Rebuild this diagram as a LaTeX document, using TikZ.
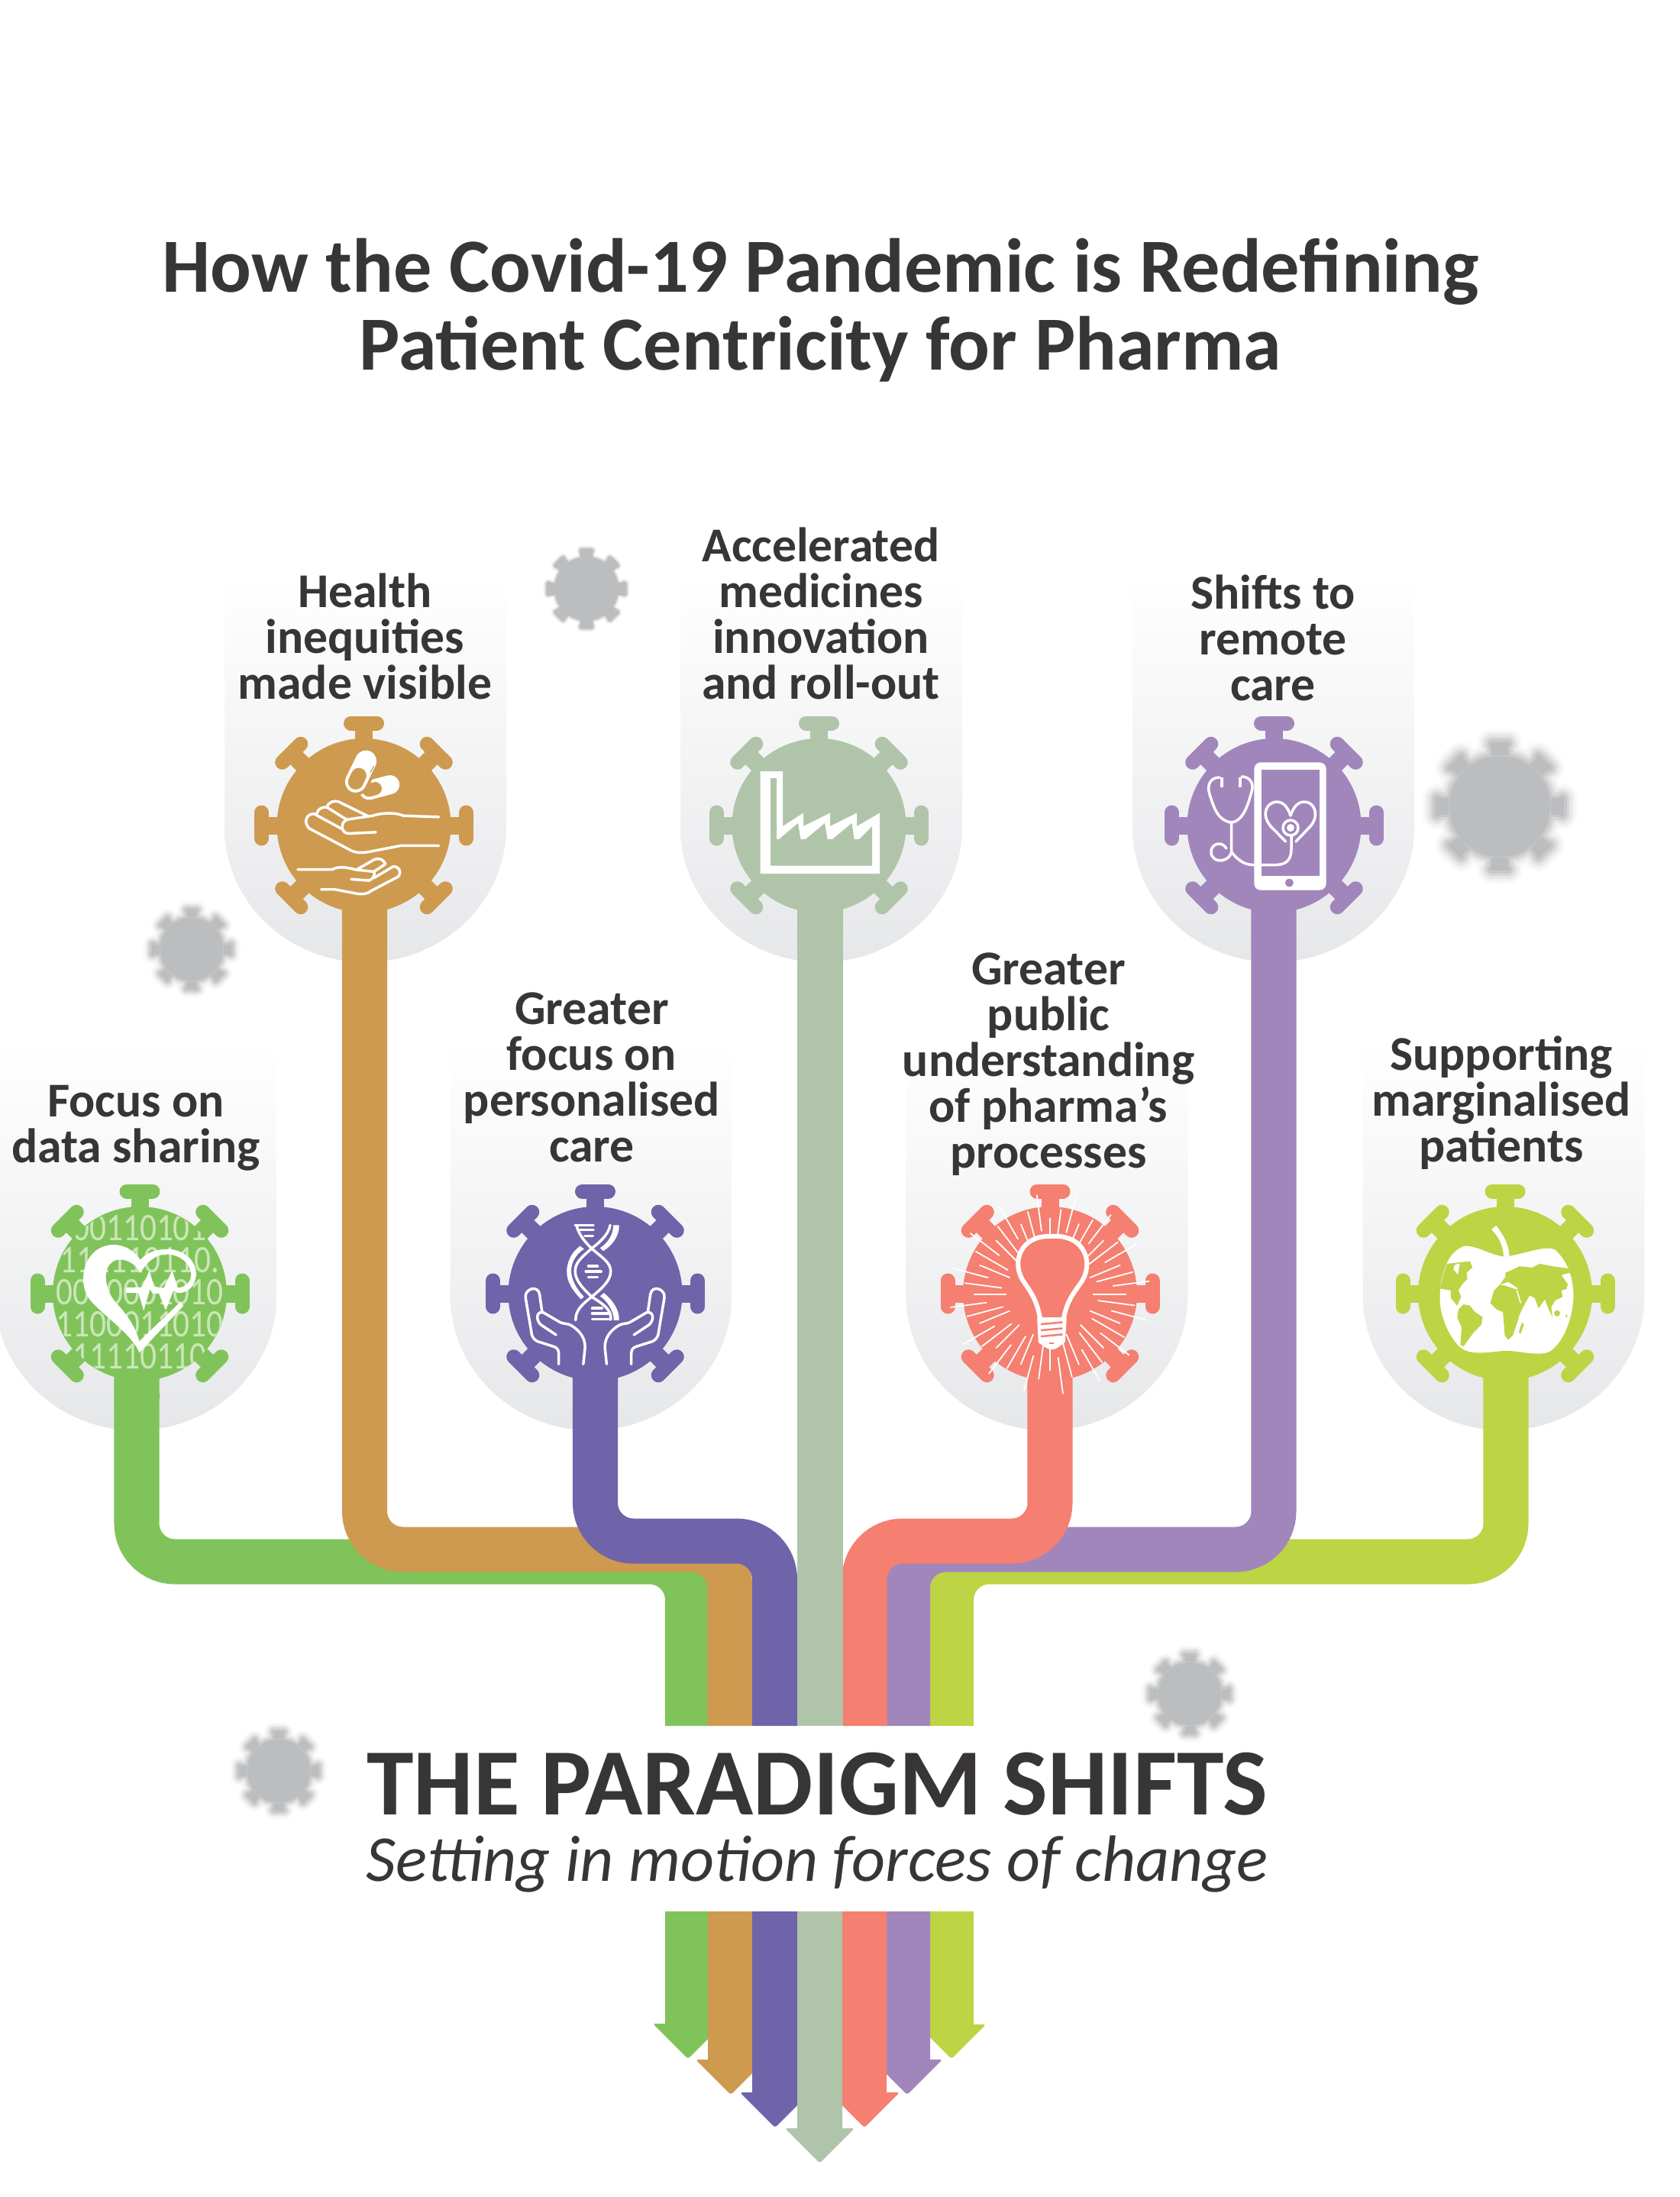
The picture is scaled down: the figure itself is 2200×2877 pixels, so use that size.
\documentclass[tikz,border=0pt]{standalone}
\usepackage{fontspec}
\setmainfont{Carlito}
\usetikzlibrary{positioning}

\definecolor{inkgrey}{HTML}{373536}
\definecolor{leaf}{HTML}{80C35B}
\definecolor{tan}{HTML}{CD9A4F}
\definecolor{indigo}{HTML}{6F63A9}
\definecolor{sage}{HTML}{B0C4A9}
\definecolor{coral}{HTML}{F57F70}
\definecolor{violet}{HTML}{A186BC}
\definecolor{lime}{HTML}{BDD445}
\definecolor{shieldgrey}{HTML}{E6E7E9}
\definecolor{fuzzgrey}{HTML}{BCBDBF}
\definecolor{digitgreen}{HTML}{CBE6B8}

\tikzset{
    band/.style={line width=0.59cm, rounded corners=0.5cm},
    lab/.style={align=center, anchor=base, text=inkgrey, inner sep=0pt, font=\fontsize{18.1}{17}\selectfont\bfseries},
    iconbox/.style={x=0.003333cm, y=-0.003333cm},
    inkline/.style={draw=white, line width=0.035cm, line cap=round, line join=round},
    digits/.style={text=digitgreen, inner sep=0pt, align=center, xscale=0.85, font=\fontsize{14.5}{12}\selectfont}
}

% one germ, #1 colour, #2 size, #3 added width, #4 neck width
\newcommand{\germshape}[4]{
    \fill[#1] (0,0) circle ({114*#2+#3});
    \foreach \a in {0,45,...,315} {
        \draw[#1, rotate=\a, line width={(#4*#2+2*#3)*0.01cm}] ({110*#2},0) -- ({134*#2},0);
        \draw[#1, rotate=\a, line cap=round, line width={(19*#2+2*#3)*0.01cm}] ({134*#2},{-17*#2}) -- ({134*#2},{17*#2});
    }
}
\newcommand{\germ}[4]{
    \coordinate (#1) at (#2,#3);
    \begin{scope}[shift={(#1)}]
        \germshape{#4}{1}{0}{23}
    \end{scope}
}
% grey germ out of focus: #1 name, #2 #3 place, #4 size, #5 blur
\newcommand{\fuzzgerm}[5]{
    \coordinate (#1) at (#2,#3);
    \begin{scope}[shift={(#1)}]
        \foreach \m/\t in {2/8, 1.5/20, 1/38, 0.5/60, 0/82, -0.5/100} {
            \germshape{fuzzgrey!\t!white}{#4}{\m*#5}{46}
        }
    \end{scope}
}
\newcommand{\shield}[2]{
    \shade[top color=white, bottom color=shieldgrey]
        ({#1-184.5},#2) -- ({#1+184.5},#2) -- ({#1+184.5},{#2+330})
        .. controls ({#1+184.5},{#2+428}) and ({#1+102},{#2+507}) .. (#1,{#2+507})
        .. controls ({#1-102},{#2+507}) and ({#1-184.5},{#2+428}) .. ({#1-184.5},{#2+330}) -- cycle;
}
% lower part of a band: #1 colour, #2 centre, #3 half width, #4 shaft end, #5 half head
\newcommand{\bandarrow}[5]{
    \fill[#1] ({#2-#3},2503) -- ({#2-#3},#4) [rounded corners=0.03cm] -- ({#2-#5},#4)
        -- (#2,{#4+#5}) -- ({#2+#5},#4) [sharp corners] -- ({#2+#3},#4) -- ({#2+#3},2503) -- cycle;
}

\begin{document}
\begin{tikzpicture}[x=0.01cm, y=-0.01cm]
    \useasboundingbox (0,0) rectangle (2200,2877);

    % blurred germs
    \fuzzgerm{fuzza}{768}{771}{0.37}{1.8}
    \fuzzgerm{fuzzb}{251}{1243}{0.38}{4.5}
    \fuzzgerm{fuzzc}{1964}{1056}{0.61}{7}
    \fuzzgerm{fuzzd}{1558}{2218}{0.38}{4.5}
    \fuzzgerm{fuzze}{365}{2319}{0.38}{4.5}

    % backings
    \shield{178}{1366}
    \shield{478.5}{753}
    \shield{774}{1366}
    \shield{1075.5}{753}
    \shield{1371}{1366}
    \shield{1667.5}{753}
    \shield{1969}{1366}

    % upper bands
    \coordinate (stemfocus) at (179,1694);
    \coordinate (stemhealth) at (477.5,1081);
    \coordinate (stemgreater) at (779.5,1694);
    \coordinate (stemaccel) at (1074,1081);
    \coordinate (stemunder) at (1375,1694);
    \coordinate (stemremote) at (1668,1081);
    \coordinate (stemmargin) at (1972,1694);
    \coordinate (kneefocus) at (900.5,2045);
    \coordinate (kneehealth) at (956,2029);
    \coordinate (kneegreater) at (1014.5,2018);
    \coordinate (kneeunder) at (1132,2018);
    \coordinate (kneeremote) at (1188.5,2029);
    \coordinate (kneemargin) at (1245.5,2045);
    \coordinate (endfocus) at (900.5,2260);
    \coordinate (endhealth) at (956,2260);
    \coordinate (endgreater) at (1014.5,2260);
    \coordinate (endaccel) at (1074,2260);
    \coordinate (endunder) at (1132,2260);
    \coordinate (endremote) at (1188.5,2260);
    \coordinate (endmargin) at (1245.5,2260);
    \draw[band, leaf] (stemfocus) |- (kneefocus) -- (endfocus);
    \draw[band, tan] (stemhealth) |- (kneehealth) -- (endhealth);
    \draw[band, indigo] (stemgreater) |- (kneegreater) -- (endgreater);
    \draw[band, lime] (stemmargin) |- (kneemargin) -- (endmargin);
    \draw[band, violet] (stemremote) |- (kneeremote) -- (endremote);
    \draw[band, coral] (stemunder) |- (kneeunder) -- (endunder);
    \draw[band, sage] (stemaccel) -- (endaccel);

    % lower bands
    \bandarrow{leaf}{901}{30}{2650}{46}
    \bandarrow{tan}{957}{30}{2697}{46}
    \bandarrow{indigo}{1015}{30}{2740}{46}
    \bandarrow{lime}{1246}{29}{2651}{45}
    \bandarrow{violet}{1188}{30}{2697}{46}
    \bandarrow{coral}{1132}{29}{2740}{46}
    \bandarrow{sage}{1073.5}{29.5}{2787}{45.5}

    % germs
    \germ{focus}{183}{1694}{leaf}
    \germ{health}{476.5}{1081}{tan}
    \germ{greater}{779.5}{1694}{indigo}
    \germ{accel}{1072.5}{1081}{sage}
    \germ{under}{1375}{1694}{coral}
    \germ{remote}{1668.5}{1081}{violet}
    \germ{margin}{1971}{1694}{lime}

    % heart over digits
    \begin{scope}
        \clip (focus) circle (113);
        \node[digits] (rows) at (183,1692) {00110101\\111110110.\\0010001010\\1100011010\\11110110};
    \end{scope}
    \begin{scope}[shift={(60,1570)}, iconbox]
        \fill[white] (368,605) .. controls (340,530) and (200,440) .. (165,385)
            .. controls (125,320) and (150,185) .. (265,180)
            .. controls (310,180) and (350,205) .. (372,240)
            .. controls (400,205) and (450,195) .. (490,198)
            .. controls (560,205) and (600,260) .. (590,310)
            .. controls (580,355) and (550,372) .. (515,370) -- (515,350)
            .. controls (550,350) and (572,325) .. (572,295)
            .. controls (565,240) and (510,215) .. (470,218)
            .. controls (430,220) and (395,250) .. (372,292)
            .. controls (350,245) and (290,225) .. (262,248)
            .. controls (225,275) and (230,340) .. (265,395)
            .. controls (300,435) and (345,480) .. (368,560)
            -- (530,405) -- (542,420) -- cycle;
        \fill[white] (315,348) -- (378,348) -- (408,282) -- (425,345) -- (465,350) -- (497,282)
            -- (518,345) -- (522,368) -- (502,360) -- (472,438) -- (445,372) -- (420,372)
            -- (410,355) -- (385,440) -- (365,370) -- (315,370) -- cycle;
    \end{scope}

    % hands and pills
    \begin{scope}[shift={(355,960)}, iconbox]
        \draw[white, line width=0.25cm, line cap=round] (468,203) -- (385,225);
        \draw[tan, line width=0.17cm, line cap=round] (410,218) -- (385,225);
        \draw[tan, line width=0.36cm, line cap=round] (373,110) -- (333,192);
        \draw[white, line width=0.28cm, line cap=round] (373,110) -- (333,192);
        \draw[tan, line width=0.2cm, line cap=round] (345,167) -- (333,192);
        \draw[tan, line width=0.012cm] (405,130) -- (390,155);
        \draw[inkline] (660,330) -- (520,325) .. controls (490,312) and (440,312) .. (400,325)
            -- (300,340) .. controls (270,350) and (275,395) .. (305,395) -- (412,390);
        \draw[inkline] (660,443) -- (510,443) -- (380,468) .. controls (350,472) and (330,470) .. (315,462)
            -- (150,375) .. controls (125,350) and (140,315) .. (170,318) -- (280,378);
        \draw[inkline] (180,315) .. controls (185,295) and (205,290) .. (220,292) -- (300,342);
        \draw[inkline] (220,292) .. controls (225,270) and (250,262) .. (270,272) -- (378,325);
        \draw[inkline] (105,537) -- (240,537) .. controls (260,525) and (290,525) .. (335,538) -- (405,498)
            .. controls (425,490) and (440,495) .. (450,515) -- (405,545);
        \draw[inkline] (197,615) -- (250,615) -- (340,632) .. controls (365,635) and (380,632) .. (395,620)
            -- (500,565) .. controls (515,545) and (505,525) .. (480,525) -- (405,570);
        \draw[inkline] (315,575) -- (385,580) .. controls (405,575) and (410,550) .. (405,545) -- (335,538);
    \end{scope}

    % factory
    \fill[white] (995.5,1010) -- (1025,1010) -- (1025,1082) -- (1052,1064.6) -- (1052,1082) -- (1087,1064.6) -- (1087,1082)
        -- (1122,1064.6) -- (1122,1082) -- (1152,1064.6) -- (1152,1144) -- (995.5,1144) -- cycle;
    \fill[sage] (1009,1019) -- (1017,1019) -- (1017,1099) -- (1020,1099) -- (1045,1078) -- (1048.5,1099) -- (1055,1099) -- (1080,1078)
        -- (1083.6,1099) -- (1090,1099) -- (1115.5,1078) -- (1118.6,1099) -- (1125,1099) -- (1142,1082) -- (1142,1133.5) -- (1009,1133.5) -- cycle;

    % dna and hands
    \begin{scope}[shift={(660,1575)}, iconbox]
        \draw[inkline] (285,88) .. controls (295,130) and (325,160) .. (345,180)
            .. controls (305,215) and (280,235) .. (280,270) .. controls (280,310) and (320,345) .. (345,370)
            .. controls (315,395) and (280,420) .. (282,462);
        \draw[inkline] (418,88) .. controls (410,130) and (370,160) .. (345,180)
            .. controls (385,215) and (420,235) .. (420,270) .. controls (420,310) and (375,345) .. (345,370)
            .. controls (385,395) and (425,420) .. (420,460);
        \fill[white] (430,88) -- (453,88) .. controls (455,130) and (425,170) .. (390,190) -- (378,178) .. controls (405,160) and (430,130) .. (430,88) -- cycle;
        \fill[white] (300,170) -- (315,182) .. controls (280,205) and (262,240) .. (265,275) .. controls (268,310) and (290,345) .. (315,370) -- (303,380)
            .. controls (270,345) and (245,310) .. (247,265) .. controls (250,225) and (270,190) .. (300,170) -- cycle;
        \fill[white] (393,355) .. controls (425,380) and (455,420) .. (453,462) -- (432,462) .. controls (432,425) and (405,385) .. (378,368) -- cycle;
        \draw[inkline] (280,88) -- (352,88);
        \draw[inkline] (298,107) -- (352,107);
        \draw[inkline] (318,130) -- (350,130);
        \draw[inkline] (322,270) -- (382,270);
        \draw[inkline] (332,250) -- (368,250);
        \draw[inkline] (332,293) -- (368,293);
        \draw[inkline] (347,415) -- (385,415);
        \draw[inkline] (347,435) -- (410,435);
        \draw[inkline] (347,458) -- (420,458);
        \foreach \s in {1,-1} {
            \begin{scope}[shift={(358,0)}, xscale=\s]
                \draw[inkline] (-143,635) -- (-143,590) .. controls (-145,575) and (-150,570) .. (-165,565)
                    -- (-228,545) .. controls (-245,535) and (-250,520) .. (-250,510) -- (-273,375)
                    .. controls (-280,340) and (-225,320) .. (-218,360) -- (-208,430);
                \draw[inkline] (-153,520) -- (-213,480) .. controls (-235,460) and (-230,425) .. (-203,432)
                    -- (-138,470) .. controls (-125,478) and (-110,472) .. (-90,485)
                    .. controls (-50,510) and (-35,545) .. (-40,580) -- (-46,635);
            \end{scope}
        }
    \end{scope}

    % rays and bulb
    \begin{scope}[shift={(1255,1575)}, iconbox]
        \foreach \a [count=\i] in {0,7.5,...,352.5} {
            \pgfmathtruncatemacro{\k}{mod(\i,3)}
            \pgfmathsetmacro{\rin}{\k==0 ? 250 : (\k==1 ? 170 : 190)}
            \pgfmathsetmacro{\rout}{\k==0 ? 395 : (\k==1 ? 300 : 350)}
            \ifnum\k=2
                \draw[white, line width=0.018cm, dash pattern=on 14pt off 1.5pt on 5pt off 1.5pt] (360,360) ++(\a:\rin) -- ++(\a:{\rout-\rin});
            \else
                \draw[white, line width=0.018cm] (360,360) ++(\a:\rin) -- ++(\a:{\rout-\rin});
            \fi
        }
        \filldraw[draw=white, fill=coral, line width=0.06cm] (322,460) .. controls (312,390) and (285,350) .. (260,315)
            .. controls (205,240) and (240,125) .. (370,132) .. controls (500,125) and (535,240) .. (482,315)
            .. controls (450,360) and (425,390) .. (414,460) -- cycle;
        \fill[white] (310,455) -- (426,455) -- (420,548) .. controls (405,560) and (385,578) .. (368,578)
            .. controls (350,578) and (330,560) .. (315,550) -- cycle;
        \draw[coral, line width=0.025cm] (325,478) -- (410,470);
        \draw[coral, line width=0.025cm] (325,502) -- (410,494);
        \draw[coral, line width=0.025cm] (325,526) -- (410,518);
        \draw[coral, line width=0.012cm] (358,553) -- (376,553);
    \end{scope}

    % phone and stethoscope
    \filldraw[white, rounded corners=0.08cm] (1643,999) rectangle (1736,1165);
    \fill[violet] (1652,1008) rectangle (1727.5,1147);
    \fill[violet] (1688.4,1156) circle (5.5);
    \draw[inkline] (1597,1018) .. controls (1585,1018) and (1580,1028) .. (1584,1040)
        .. controls (1590,1060) and (1596,1075) .. (1612.6,1077) .. controls (1628,1075) and (1634,1055) .. (1639.5,1035)
        .. controls (1642,1025) and (1636,1017) .. (1626,1017);
    \draw[inkline] (1612.6,1077) -- (1612.6,1116) .. controls (1610,1128) and (1590,1132) .. (1586,1118)
        .. controls (1584,1105) and (1600,1100) .. (1606,1111);
    \draw[inkline] (1613,1116) .. controls (1620,1125) and (1628,1132) .. (1640,1132.5) -- (1672,1132.5)
        .. controls (1685,1132) and (1691,1125) .. (1691,1112) -- (1691,1095);
    \draw[inkline] (1683.5,1102) -- (1664,1082) .. controls (1650,1065) and (1660,1050) .. (1672,1050)
        .. controls (1680,1050) and (1686,1056) .. (1690,1068) .. controls (1694,1056) and (1700,1050) .. (1708,1050)
        .. controls (1722,1050) and (1728,1068) .. (1716,1082) -- (1697,1102);
    \draw[inkline] (1690,1084) circle (10);
    \fill[white] (1690,1084) circle (5);
    \fill[white] (1598,1018) rectangle (1602,1031);
    \fill[white] (1622,1018) rectangle (1626,1031);

    % apple and globe
    \begin{scope}[shift={(1850,1575)}, iconbox]
        \fill[white] (365,212) .. controls (310,210) and (260,170) .. (205,170)
            .. controls (170,180) and (140,215) .. (130,250) .. controls (110,300) and (105,340) .. (108,400)
            .. controls (115,470) and (160,560) .. (205,580) .. controls (250,600) and (310,585) .. (370,582)
            .. controls (430,585) and (500,605) .. (540,585) .. controls (590,550) and (625,470) .. (632,380)
            .. controls (635,300) and (610,230) .. (560,185) .. controls (520,165) and (430,205) .. (365,212) -- cycle;
        \fill[white] (310,105) -- (328,90) .. controls (360,130) and (380,170) .. (380,212) -- (358,212)
            .. controls (355,170) and (340,135) .. (310,105) -- cycle;
        \fill[lime] (135,240) -- (180,235) -- (225,230) -- (235,255) -- (212,275) -- (215,300) -- (195,320)
            -- (180,345) -- (190,370) -- (175,405) -- (150,375) -- (150,345) -- (108,338) -- (118,290) -- cycle;
        \fill[white] (165,245) -- (185,238) -- (178,282) -- (160,262) -- cycle;
        \fill[lime] (180,420) -- (200,400) -- (225,405) -- (245,430) -- (275,450) -- (270,480) -- (240,510)
            -- (225,530) -- (200,565) -- (188,560) -- (192,490) -- (175,450) -- cycle;
        \fill[lime] (305,395) -- (320,345) -- (345,320) -- (365,290) -- (365,275) -- (390,265) -- (420,250) -- (470,255)
            -- (500,240) -- (550,250) -- (610,258) -- (620,275) -- (600,280) -- (585,285) -- (610,320) -- (605,340)
            -- (585,345) -- (590,370) -- (560,385) -- (545,410) -- (550,450) -- (535,420) -- (520,380) -- (495,415)
            -- (480,375) -- (460,365) -- (440,400) -- (420,440) -- (415,460) -- (395,520) -- (375,540) -- (362,520)
            -- (355,430) -- (330,420) -- cycle;
        \fill[white] (345,322) -- (375,312) -- (412,335) -- (412,342) -- (370,328) -- cycle;
        \draw[white, line width=0.015cm] (410,345) -- (425,395);
        \fill[lime] (430,470) -- (437,480) -- (425,515) -- (417,510) -- cycle;
        \fill[lime] (568,435) circle (12);
        \fill[lime] (605,445) circle (5);
    \end{scope}

    % labels
    \node[lab] (focuslab) at (178,1522) {Focus on\\data sharing};
    \node[lab] (healthlab) at (478,915.5) {Health\\inequities\\made visible};
    \node[lab] (greaterlab) at (775,1521) {Greater\\focus on\\personalised\\care};
    \node[lab] (accellab) at (1075,915) {Accelerated\\medicines\\innovation\\and roll-out};
    \node[lab] (underlab) at (1373,1529) {Greater\\public\\understanding\\of pharma’s\\processes};
    \node[lab] (remotelab) at (1667,917) {Shifts to\\remote\\care};
    \node[lab] (marginlab) at (1966,1521) {Supporting\\marginalised\\patients};

    % headings
    \node[align=center, anchor=base, text=inkgrey, inner sep=0pt, font=\fontsize{28.5}{29}\selectfont\bfseries] (titlelab) at (1074.5,484) {How the Covid-19 Pandemic is Redefining\\Patient Centricity for Pharma};
    \node[anchor=base, text=inkgrey, inner sep=0pt, font=\fontsize{35.3}{37}\selectfont\bfseries] (shiftslab) at (1070.5,2376) {THE PARADIGM SHIFTS};
    \node[anchor=base, text=inkgrey, inner sep=0pt, font=\fontsize{24.4}{25}\selectfont\itshape] (motionlab) at (1070.5,2463) {Setting in motion forces of change};
\end{tikzpicture}
\end{document}
